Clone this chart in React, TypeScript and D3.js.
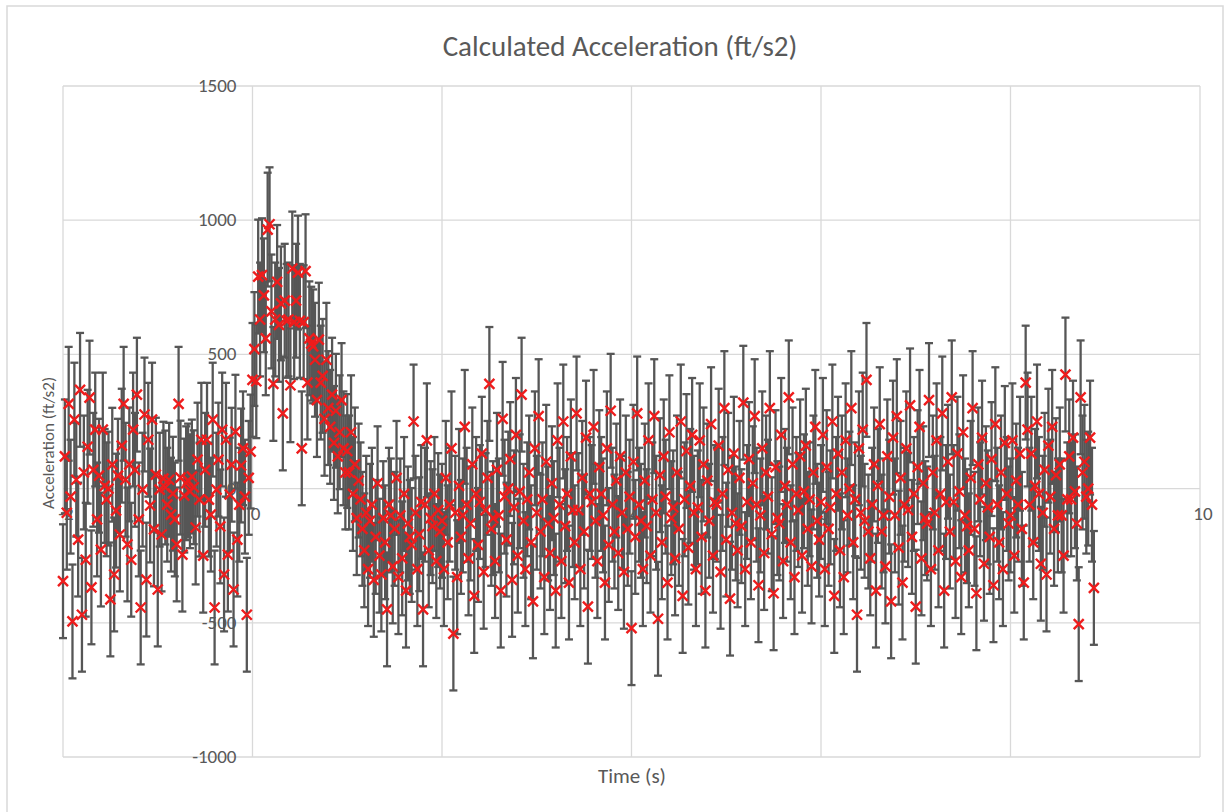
import React from "react";
import * as d3 from "d3";

// Sample timing (uniformly sampled time series, 50 Hz)
const T0 = -2;
const DT = 0.02;
const ERR = 212; // fixed error bar amount (ft/s2)

const xTicks = [-2, 0, 2, 4, 6, 8, 10];
const yTicks = [-1000, -500, 0, 500, 1000, 1500];

// Acceleration readings (ft/s2), segment by segment
const accPre = [
  -345, 120, -90, 316, -30, -495, 257, 33, -190, 368,
  -470, 60, -265, 156, 339, -368, 70, 220, -115, 48,
  -227, 220, 10, -40, 0, -413, 89, -320, -82, 48,
  -171, 160, 316, 33, -208, 90, -265, 220, 70, 350,
  -115, -443, -4, 276, -339, 182, -63, 257, -152, 52,
  -376, -4, -171, 37, 4, -60, 33, -97, -19, -115,
  -208, 316, 41, -246, -26, 20, 30, -10, 45, 5,
  -145, 108, -41, 182, -250, 70, 182, -41, -97, 257,
  -443, -4, 108, -141, 220, -320, 182, -246, -22, 89,
  -376, 212, -190, -60, 86, 150, -30, -470, 40, 138,
];
const accPeak = [
  405, 520, 400, 790, 630, 795, 720, 560, 965, 985,
  660, 390, 630, 770, 610, 690, 280, 700, 625, 630,
  385, 820, 620, 700, 805, 625, 150, 620, 810, 395,
  560, 540, 530, 480, 330, 555, 395, 420, 260, 480,
  300, 230, 350, 170, 290, 120, 210, 330, 150, 60,
];
const accDrop = [
  140, 60, 210, -20, 90, -110, 30, -40, -150, -230,
  -90, -300, -120, -60, -340, -180, 20, -250, -320, -110,
  -200, -450, -60, -100, -290, -150, 40, -330, -100, -260,
  -20, -380, -130, -180, -210, 250, -90, -300, -170, -50,
  -450, -60, 180, -230, -110, -140, -20, -270, -80, -160,
];
const accMid1 = [
  -120, -300, 40, -200, -60, 150, -540, -90, -330, 10,
  -180, -100, 230, -60, -260, -130, 90, -400, -20, -210,
  -50, 130, -310, -80, 40, 390, -150, -110, -270, 70,
  -100, -380, 260, -30, -190, 0, 110, -340, -70, 200,
  -250, -10, 350, -120, -300, -40, 60, -200, -420, 150,
  -90, 270, -160, -40, -330, 100, -130, -240, 20, -110,
  -380, 180, -60, -270, 250, -140, -20, -350, 120, -80,
  -200, 280, -80, -300, 40, -160, 190, -440, -20, -50,
  230, -120, -270, 80, -20, -100, -350, 150, -210, 290,
  -60, -160, 30, -240, 120, -90, -310, 60, -150, -30,
];
const accMid2 = [
  -520, 100, -180, 280, -60, -120, -300, 30, -140, 180,
  -250, -40, 270, -90, -485, 50, -200, 120, -30, -350,
  210, -110, -70, -260, 60, -150, 250, -400, -40, 140,
  -220, 10, 200, -90, -300, -70, 180, -180, 90, -380,
  30, -120, 240, -250, -50, -60, 160, -310, -20, 300,
  -190, 70, -410, -90, 130, -130, -230, 40, -140, 320,
  -300, -50, 110, -200, 20, 270, -60, -360, -100, 150,
  -240, 60, -30, 300, -170, -390, 80, -110, -130, 200,
  -270, 10, -60, 340, -200, 90, -330, -20, -80, 120,
  -250, -10, 160, -150, -40, -290, 60, 230, -120, -190,
];
const accMid3 = [
  -50, 200, -300, 80, -150, -70, 250, -400, -20, 130,
  -230, 60, -330, 180, -100, 0, 300, -200, -40, -470,
  150, -90, 220, -120, 405, -160, -260, -60, 90, -380,
  10, 240, -160, -100, -290, 120, -30, -420, 190, -100,
  270, -220, 40, -350, -60, 150, -80, 310, -180, -20,
  -440, 80, 230, -260, 20, -110, -130, 330, -300, 60,
  -90, 180, -230, -20, 280, -380, -50, 100, -160, 340,
  -50, -270, 130, -10, -330, 210, -100, -140, -230, 40,
  300, -150, -390, 90, -40, 190, -280, 20, -70, -180,
  110, -360, 240, -60, -200, 60, -300, 170, -20, -130,
];
const accEnd = [
  -100, 180, -250, 30, -60, 130, -150, -350, 395, 220,
  -60, 130, -200, 10, 250, -20, -280, -90, 70, -320,
  160, -30, 230, -150, 50, -100, 90, -100, -250, 425,
  -40, 120, -40, 190, -10, -130, -505, 340, 60, 100,
  -30, 0, 190, -60, -370,
];

const acc = [...accPre, ...accPeak, ...accDrop, ...accMid1, ...accMid2, ...accMid3, ...accEnd];
const data = acc.map((v, i) => ({ t: T0 + i * DT, a: v }));

const FONT = 'Carlito, Calibri, "Open Sans", "Liberation Sans", sans-serif';
const TEXT = "#595959";
const GRID = "#d9d9d9";

export default function App() {
  const x = d3.scaleLinear().domain([-2, 10]).range([63, 1200]);
  const y = d3.scaleLinear().domain([-1000, 1500]).range([757, 86]);
  const m = 5; // half marker size
  const cap = 4;

  return (
    <svg
      width={1226}
      height={812}
      style={{ position: "absolute", left: 0, top: 0, background: "#fff" }}
      fontFamily={FONT}
    >
      <rect x={0} y={0} width={1226} height={812} fill="#fff" />
      <rect x={7} y={6} width={1216} height={820} fill="none" stroke={GRID} strokeWidth={1.5} />

      {/* gridlines */}
      {yTicks.map((v) => (
        <line key={"gy" + v} x1={x(-2)} x2={x(10)} y1={y(v)} y2={y(v)} stroke={GRID} strokeWidth={1.3} />
      ))}
      {xTicks.map((v) => (
        <line key={"gx" + v} x1={x(v)} x2={x(v)} y1={y(1500)} y2={y(-1000)} stroke={GRID} strokeWidth={1.3} />
      ))}

      {/* tick labels */}
      {yTicks.map((v) => (
        <text key={"ly" + v} x={x(0) - 16} y={y(v) + 6} textAnchor="end" fontSize={19} fill={TEXT}>
          {v}
        </text>
      ))}
      {xTicks.map((v) => (
        <text key={"lx" + v} x={x(v) + 3} y={y(0) + 31} textAnchor="middle" fontSize={19} fill={TEXT}>
          {v}
        </text>
      ))}

      {/* error bars */}
      <g stroke="#565656" strokeWidth={2.3} fill="none">
        {data.map((d, i) => {
          const cx = x(d.t);
          const y1 = y(d.a + ERR);
          const y2 = y(d.a - ERR);
          return (
            <g key={"e" + i}>
              <line x1={cx} x2={cx} y1={y1} y2={y2} />
              <line x1={cx - cap} x2={cx + cap} y1={y1} y2={y1} />
              <line x1={cx - cap} x2={cx + cap} y1={y2} y2={y2} />
            </g>
          );
        })}
      </g>

      {/* markers */}
      <g stroke="#ee1c1c" strokeWidth={2.4} fill="none">
        {data.map((d, i) => {
          const cx = x(d.t);
          const cy = y(d.a);
          return (
            <path key={"m" + i} d={`M${cx - m},${cy - m}L${cx + m},${cy + m}M${cx - m},${cy + m}L${cx + m},${cy - m}`} />
          );
        })}
      </g>

      {/* titles */}
      <text x={620} y={56} textAnchor="middle" fontSize={29} fill={TEXT}>
        Calculated Acceleration (ft/s2)
      </text>
      <text x={632} y={783} textAnchor="middle" fontSize={21} fill={TEXT}>
        Time (s)
      </text>
      <text
        transform={`translate(54,443) rotate(-90)`}
        textAnchor="middle"
        fontSize={17}
        fill={TEXT}
      >
        Acceleration (ft/s2)
      </text>
    </svg>
  );
}
